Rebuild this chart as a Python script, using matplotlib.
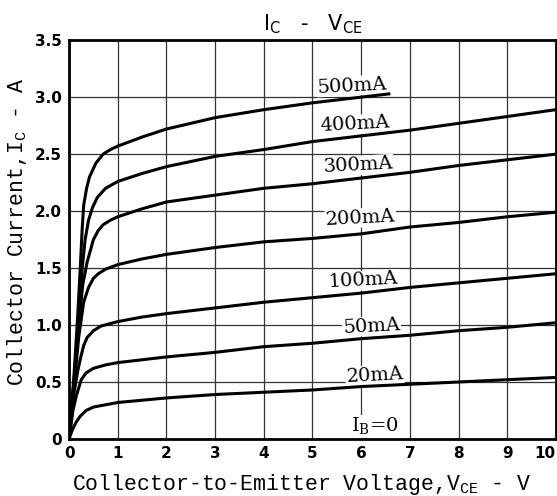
import numpy as np
import matplotlib
matplotlib.use("Agg")
import matplotlib.pyplot as plt

# curves: VCE (V) vs IC (A) for each base current
v_500 = [0, 0.1, 0.18, 0.23, 0.27, 0.3, 0.36, 0.42, 0.55, 0.7, 0.85, 1, 1.5, 2, 3, 4, 5, 6, 6.6]
i_500 = [0, 0.55, 1.1, 1.5, 1.85, 2.05, 2.2, 2.3, 2.42, 2.5, 2.54, 2.57, 2.65, 2.72, 2.82, 2.89, 2.95, 3.0, 3.03]

v_400 = [0, 0.1, 0.2, 0.27, 0.33, 0.4, 0.48, 0.58, 0.75, 1, 1.5, 2, 3, 4, 5, 6, 7, 8, 9, 10]
i_400 = [0, 0.5, 1.05, 1.5, 1.75, 1.92, 2.03, 2.12, 2.2, 2.26, 2.33, 2.39, 2.48, 2.54, 2.61, 2.66, 2.71, 2.77, 2.83, 2.89]

v_300 = [0, 0.1, 0.2, 0.28, 0.37, 0.5, 0.6, 0.7, 0.85, 1, 1.5, 2, 3, 4, 5, 6, 7, 8, 9, 10]
i_300 = [0, 0.5, 1.0, 1.35, 1.55, 1.75, 1.83, 1.88, 1.92, 1.95, 2.02, 2.08, 2.14, 2.2, 2.24, 2.29, 2.34, 2.4, 2.45, 2.5]

v_200 = [0, 0.1, 0.2, 0.3, 0.4, 0.5, 0.6, 0.75, 1, 1.5, 2, 3, 4, 5, 6, 7, 8, 9, 10]
i_200 = [0, 0.45, 0.9, 1.2, 1.33, 1.41, 1.45, 1.49, 1.53, 1.58, 1.62, 1.68, 1.73, 1.76, 1.8, 1.86, 1.9, 1.95, 1.99]

v_100 = [0, 0.1, 0.18, 0.23, 0.3, 0.37, 0.5, 0.65, 1, 1.5, 2, 3, 4, 5, 6, 7, 8, 9, 10]
i_100 = [0, 0.4, 0.6, 0.7, 0.82, 0.89, 0.95, 0.99, 1.03, 1.07, 1.1, 1.15, 1.2, 1.24, 1.28, 1.33, 1.37, 1.41, 1.45]

v_50 = [0, 0.08, 0.15, 0.25, 0.35, 0.5, 0.75, 1, 2, 3, 4, 5, 6, 7, 8, 9, 10]
i_50 = [0, 0.25, 0.38, 0.52, 0.58, 0.62, 0.65, 0.67, 0.72, 0.76, 0.81, 0.84, 0.88, 0.91, 0.95, 0.98, 1.02]

v_20 = [0, 0.05, 0.1, 0.15, 0.23, 0.35, 0.5, 0.75, 1, 2, 3, 4, 5, 6, 7, 8, 9, 10]
i_20 = [0, 0.06, 0.11, 0.15, 0.2, 0.25, 0.28, 0.3, 0.32, 0.36, 0.39, 0.41, 0.43, 0.46, 0.48, 0.5, 0.52, 0.54]

curve_labels = ["500mA", "400mA", "300mA", "200mA", "100mA", "50mA", "20mA", "I$_\\mathregular{B}$=0"]
label_x = [5.82, 5.88, 5.93, 5.99, 6.05, 6.21, 6.28, 6.28]
label_y = [3.1, 2.76, 2.40, 1.94, 1.39, 0.99, 0.56, 0.11]

xticks = [0, 1, 2, 3, 4, 5, 6, 7, 8, 9, 10]
yticks = [0, 0.5, 1.0, 1.5, 2.0, 2.5, 3.0, 3.5]
ytick_labels = ["0", "0.5", "1.0", "1.5", "2.0", "2.5", "3.0", "3.5"]

fig = plt.figure(figsize=(5.57, 4.96), dpi=100)
ax = fig.add_axes([0.124, 0.115, 0.874, 0.804])

for v, i in [(v_500, i_500), (v_400, i_400), (v_300, i_300), (v_200, i_200),
             (v_100, i_100), (v_50, i_50), (v_20, i_20)]:
    ax.plot(v, i, color="black", lw=2.2, solid_capstyle="butt", zorder=3)

for lab, x, y in zip(curve_labels, label_x, label_y):
    ax.text(x, y, lab, ha="center", va="center", fontsize=14, family="DejaVu Serif",
            rotation=3 if lab[0] != "I" else 0, zorder=2.5,
            bbox=dict(facecolor="white", edgecolor="none", pad=0.5))

ax.set_xlim(0, 10)
ax.set_ylim(0, 3.5)
ax.set_xticks(xticks)
ax.set_yticks(yticks)
ax.set_yticklabels(ytick_labels)
ax.grid(True, color="#333333", lw=0.9)
ax.tick_params(length=0, pad=5, labelsize=11)
for lab in ax.get_xticklabels() + ax.get_yticklabels():
    lab.set_fontweight("bold")
    lab.set_family("DejaVu Sans")
ax.get_xticklabels()[-1].set_horizontalalignment("right")
for s in ax.spines.values():
    s.set_linewidth(2)

ax.set_xlabel("Collector-to-Emitter Voltage,V$_\\mathregular{CE}$ - V",
              family="Liberation Mono", fontsize=15.5)
ax.xaxis.set_label_coords(0.478, -0.082)
ax.set_ylabel("Collector Current,I$_\\mathregular{C}$ - A",
              family="Liberation Mono", fontsize=15.5)
ax.yaxis.set_label_coords(-0.082, 0.519)
ax.set_title("I$_\\mathregular{C}$   -   V$_\\mathregular{CE}$", family="DejaVu Sans",
             fontsize=15, pad=7)

fig.savefig("out.png", dpi=100)
